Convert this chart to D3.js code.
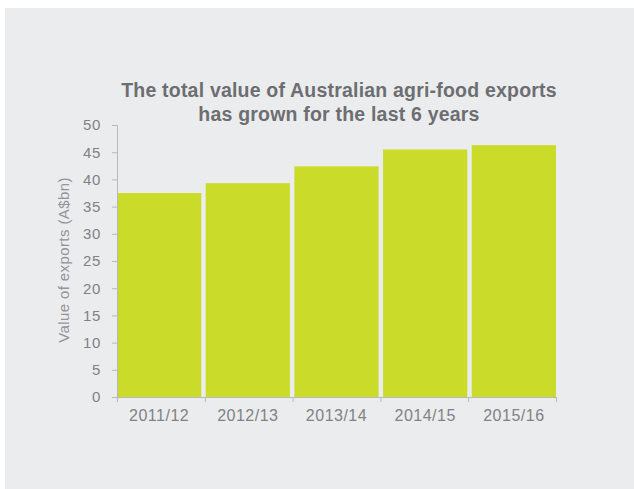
<!DOCTYPE html>
<html>
<head>
<meta charset="utf-8">
<script src="https://cdn.jsdelivr.net/npm/d3@7"></script>
<style>
  html, body { margin: 0; padding: 0; background: #ffffff; }
  svg { display: block; }
  text { font-family: "Liberation Sans", Arial, Helvetica, sans-serif; }
</style>
</head>
<body>
<div id="chart"></div>
<script>
// Agri-food export values by financial year (A$ billion)
const years = ["2011/12", "2012/13", "2013/14", "2014/15", "2015/16"];
const exportValues = [37.5, 39.3, 42.4, 45.5, 46.3];
const yTicks = [0, 5, 10, 15, 20, 25, 30, 35, 40, 45, 50];
const titleLines = ["The total value of Australian agri-food exports", "has grown for the last 6 years"];
const yAxisTitle = "Value of exports (A$bn)";

const width = 634, height = 489;
const plot = { left: 117, right: 556, top: 125, bottom: 397 };

const svg = d3.select("#chart").append("svg")
  .attr("width", width).attr("height", height);

// panel background
svg.append("rect")
  .attr("x", 5).attr("y", 8)
  .attr("width", width - 5).attr("height", height - 8)
  .attr("fill", "#ebecee");

const x = d3.scaleBand().domain(years)
  .range([plot.left, plot.right])
  .paddingInner(0.05).paddingOuter(0.0);

const y = d3.scaleLinear().domain([0, 50]).range([plot.bottom, plot.top]);

// bars
svg.append("g").selectAll("rect")
  .data(years)
  .join("rect")
  .attr("x", d => x(d))
  .attr("width", x.bandwidth())
  .attr("y", (d, i) => y(exportValues[i]))
  .attr("height", (d, i) => y(0) - y(exportValues[i]))
  .attr("fill", "#cbdb2a");

// y axis
const yAxis = svg.append("g")
  .attr("transform", `translate(${plot.left},0)`)
  .call(d3.axisLeft(y).tickValues(yTicks).tickSize(5).tickPadding(11));
yAxis.select(".domain").attr("stroke", "#b8b9bb");
yAxis.selectAll(".tick line").attr("stroke", "#b8b9bb");
yAxis.selectAll(".tick text")
  .attr("fill", "#808285")
  .style("font-size", "15px")
  .style("letter-spacing", "0.6px");

// x axis: ticks sit on category boundaries
const edge = d3.scaleLinear().domain([0, years.length]).range([plot.left, plot.right]);
const xAxis = svg.append("g")
  .attr("transform", `translate(0,${plot.bottom})`)
  .call(d3.axisBottom(edge).tickValues(d3.range(years.length + 1)).tickSize(5).tickFormat(""));
xAxis.select(".domain").attr("stroke", "#b8b9bb");
xAxis.selectAll(".tick line").attr("stroke", "#b8b9bb");

svg.append("g").selectAll("text")
  .data(years)
  .join("text")
  .attr("x", d => x(d) + x.bandwidth() / 2)
  .attr("y", plot.bottom + 24)
  .attr("text-anchor", "middle")
  .attr("fill", "#808285")
  .style("font-size", "16px")
  .style("letter-spacing", "0.5px")
  .text(d => d);

// y axis title
svg.append("text")
  .attr("transform", `translate(69,${(plot.top + plot.bottom) / 2 - 1}) rotate(-90)`)
  .attr("text-anchor", "middle")
  .attr("fill", "#939598")
  .style("font-size", "15px")
  .style("letter-spacing", "0.4px")
  .text(yAxisTitle);

// chart title
svg.append("g").selectAll("text")
  .data(titleLines)
  .join("text")
  .attr("x", 339)
  .attr("y", (d, i) => 97 + i * 23.5)
  .attr("text-anchor", "middle")
  .attr("fill", "#6d6e71")
  .style("font-size", "19.5px")
  .style("font-weight", "bold")
  .style("letter-spacing", "0.2px")
  .text(d => d);
</script>
</body>
</html>
